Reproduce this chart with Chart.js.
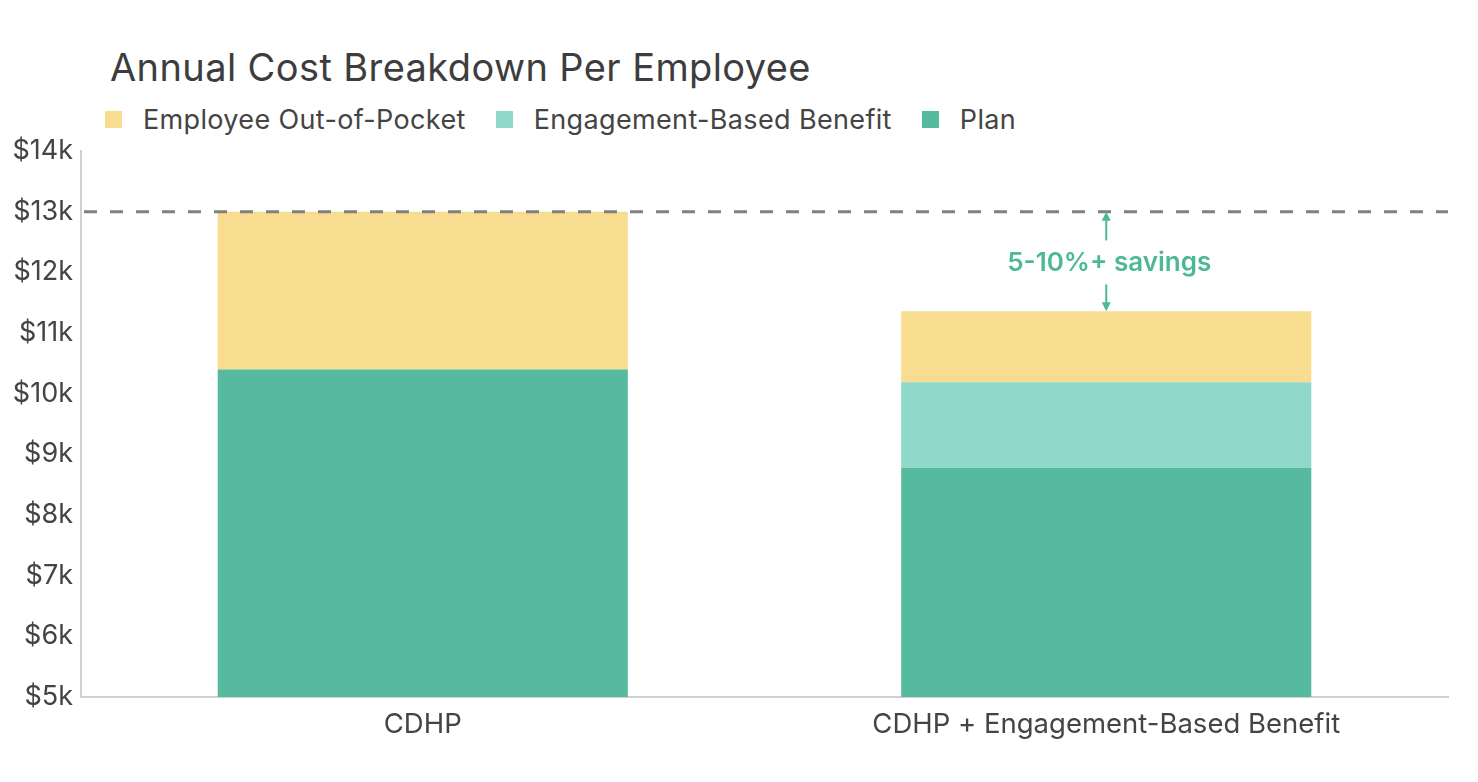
<!DOCTYPE html>
<html>
<head>
<meta charset="utf-8">
<script src="https://cdn.jsdelivr.net/npm/chart.js@4.4.1/dist/chart.umd.min.js"></script>
<style>
  html, body { margin: 0; padding: 0; background: #fff; }
  body { width: 1478px; height: 782px; position: relative; overflow: hidden; font-family: Inter, "Liberation Sans", sans-serif; color: #444; }
  #title { position: absolute; left: 110px; top: 44px; font-size: 38px; font-weight: 400; color: #3d3d3d; letter-spacing: 0.4px; }
  #legend { position: absolute; left: 105px; top: 103px; display: flex; font-size: 27px; color: #444; letter-spacing: 0.35px; }
  .item { display: flex; align-items: center; margin-right: 30px; }
  .swatch { width: 17px; height: 17px; margin-right: 21px; }
  #wrap { position: absolute; left: 0; top: 0; width: 1478px; height: 782px; }
</style>
</head>
<body>
<div id="title">Annual Cost Breakdown Per Employee</div>
<div id="legend"></div>
<div id="wrap"><canvas id="chart"></canvas></div>
<script>
// --- DATA ---
const categories = ['CDHP', 'CDHP + Engagement-Based Benefit'];
const planCost = [10400, 8780];
const engagementCost = [0, 1410];
const outOfPocketCost = [2600, 1170];
const yTicks = [5000, 6000, 7000, 8000, 9000, 10000, 11000, 12000, 13000, 14000];
const baselineCost = 13000;
const savingsLabel = '5-10%+ savings';

const COLORS = {
    oop: '#f8dc8f',
    engagement: '#90d8c9',
    plan: '#56ba9e',
    savings: '#4db897',
    text: '#444444',
    axis: '#d0d0d0',
    dash: '#808080'
};

// legend order matches the reference (top of stack first)
const legendItems = [
    { label: 'Employee Out-of-Pocket', color: COLORS.oop },
    { label: 'Engagement-Based Benefit', color: COLORS.engagement },
    { label: 'Plan', color: COLORS.plan }
];
document.getElementById('legend').innerHTML = legendItems.map(i =>
    `<div class="item"><span class="swatch" style="background:${i.color}"></span>${i.label}</div>`
).join('');

// dashed baseline + savings arrows
const annotationPlugin = {
    id: 'savingsAnnotation',
    afterDatasetsDraw(chart) {
        const { ctx, chartArea, scales } = chart;
        const yBase = scales.y.getPixelForValue(baselineCost);
        const total = planCost[1] + engagementCost[1] + outOfPocketCost[1];
        const yTop = scales.y.getPixelForValue(total);
        const x = scales.x.getPixelForValue(1);

        ctx.save();
        ctx.strokeStyle = COLORS.dash;
        ctx.lineWidth = 3;
        ctx.setLineDash([13, 13]);
        ctx.beginPath();
        ctx.moveTo(chartArea.left + 3, yBase);
        ctx.lineTo(chartArea.right, yBase);
        ctx.stroke();
        ctx.setLineDash([]);

        const mid = (yBase + yTop) / 2 + 2;
        ctx.strokeStyle = COLORS.savings;
        ctx.fillStyle = COLORS.savings;
        ctx.lineWidth = 2;
        // up arrow
        ctx.beginPath();
        ctx.moveTo(x, mid - 23);
        ctx.lineTo(x, yBase + 6);
        ctx.stroke();
        ctx.beginPath();
        ctx.moveTo(x, yBase);
        ctx.lineTo(x - 4.5, yBase + 9);
        ctx.lineTo(x + 4.5, yBase + 9);
        ctx.closePath();
        ctx.fill();
        // down arrow
        ctx.beginPath();
        ctx.moveTo(x, mid + 21);
        ctx.lineTo(x, yTop - 6);
        ctx.stroke();
        ctx.beginPath();
        ctx.moveTo(x, yTop);
        ctx.lineTo(x - 4.5, yTop - 9);
        ctx.lineTo(x + 4.5, yTop - 9);
        ctx.closePath();
        ctx.fill();

        ctx.font = '600 26px Inter, "Liberation Sans", sans-serif';
        ctx.textAlign = 'center';
        ctx.textBaseline = 'middle';
        ctx.fillText(savingsLabel, x + 3, mid);
        ctx.restore();
    }
};

const barDefaults = { borderWidth: 0, barPercentage: 0.6, categoryPercentage: 1.0 };

new Chart(document.getElementById('chart').getContext('2d'), {
    type: 'bar',
    data: {
        labels: categories,
        datasets: [
            { label: 'Plan', data: planCost, backgroundColor: COLORS.plan, ...barDefaults },
            { label: 'Engagement-Based Benefit', data: engagementCost, backgroundColor: COLORS.engagement, ...barDefaults },
            { label: 'Employee Out-of-Pocket', data: outOfPocketCost, backgroundColor: COLORS.oop, ...barDefaults }
        ]
    },
    options: {
        responsive: true,
        maintainAspectRatio: false,
        animation: false,
        layout: { padding: { top: 151, left: 9, right: 30, bottom: 38 } },
        plugins: {
            legend: { display: false },
            title: { display: false },
            tooltip: { enabled: false }
        },
        scales: {
            x: {
                stacked: true,
                grid: { display: false },
                border: { color: COLORS.axis, width: 2 },
                ticks: { color: COLORS.text, font: { family: 'Inter', size: 27.5 }, padding: 3 }
            },
            y: {
                stacked: true,
                min: 5000,
                max: 14000,
                afterBuildTicks: axis => { axis.ticks = yTicks.map(v => ({ value: v })); },
                afterFit: axis => { axis.width = 72; },
                grid: { display: false },
                border: { color: COLORS.axis, width: 2 },
                ticks: {
                    color: COLORS.text,
                    font: { family: 'Inter', size: 27 },
                    padding: 0,
                    callback: v => '$' + (v / 1000) + 'k'
                }
            }
        }
    },
    plugins: [annotationPlugin]
});
</script>
</body>
</html>
